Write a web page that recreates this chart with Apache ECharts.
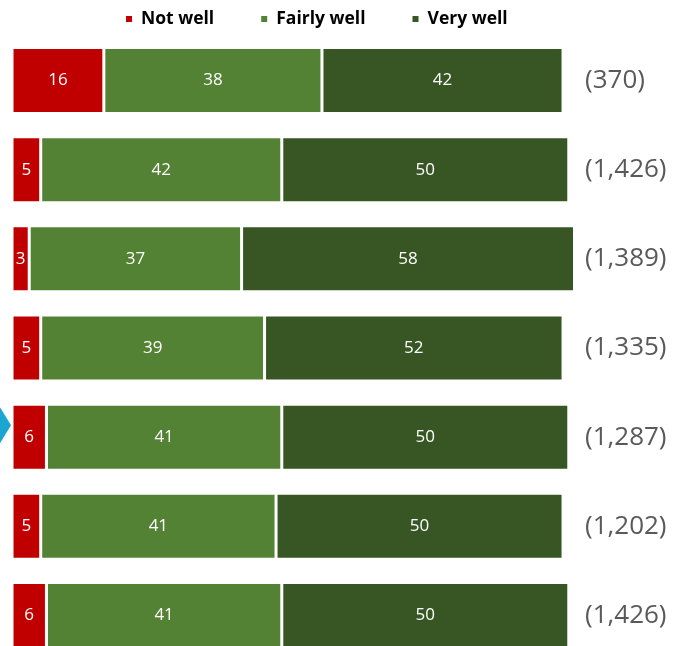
<!DOCTYPE html>
<html>
<head>
<meta charset="utf-8">
<script src="https://cdn.jsdelivr.net/npm/echarts@6/dist/echarts.min.js"></script>
<style>
  html, body { margin: 0; padding: 0; background: #fff; }
  #chart { width: 677px; height: 646px; }
</style>
</head>
<body>
<div id="chart"></div>
<script>
// Rows, top to bottom
var rows = ['r1', 'r2', 'r3', 'r4', 'r5', 'r6', 'r7'];
// Sample sizes shown at the right of each bar
var sampleSizes = ['(370)', '(1,426)', '(1,389)', '(1,335)', '(1,287)', '(1,202)', '(1,426)'];
// Percentages per response
var notWell    = [16, 5, 3, 5, 6, 5, 6];
var fairlyWell = [38, 42, 37, 39, 41, 41, 41];
var veryWell   = [42, 50, 58, 52, 50, 50, 50];
// Row marked with the pointer on the left
var highlightedRow = 4;

var FONT = '"Open Sans", Lato, sans-serif';

var chart = echarts.init(document.getElementById('chart'));

function seg(name, data, color) {
  return {
    name: name,
    type: 'bar',
    stack: 'total',
    data: data,
    barWidth: 66,
    itemStyle: { color: color, borderColor: '#ffffff', borderWidth: 1.5 },
    label: {
      show: true,
      position: 'inside',
      color: '#ffffff',
      fontFamily: FONT,
      fontSize: 17
    },
    emphasis: { disabled: true }
  };
}

chart.setOption({
  animation: false,
  legend: {
    top: 5,
    left: 119,
    itemWidth: 8,
    itemHeight: 8,
    itemGap: 45,
    icon: 'rect',
    textStyle: { fontFamily: FONT, fontWeight: 700, fontSize: 17.5, color: '#000', padding: [0, 0, 0, 3] },
    data: ['Not well', 'Fairly well', 'Very well']
  },
  grid: {
    left: 12, right: 91, top: 36, height: 624,
    containLabel: false,
    outerBoundsMode: 'none'
  },
  xAxis: {
    type: 'value',
    min: 0,
    max: 100,
    show: false
  },
  yAxis: [
    {
      type: 'category',
      data: rows,
      inverse: true,
      show: false
    },
    {
      type: 'category',
      data: sampleSizes,
      inverse: true,
      position: 'right',
      axisLine: { show: false },
      axisTick: { show: false },
      axisLabel: {
        margin: -1,
        align: 'left',
        color: '#595959',
        fontFamily: FONT,
        fontSize: 26
      }
    }
  ],
  series: [
    seg('Not well', notWell, '#C00000'),
    seg('Fairly well', fairlyWell, '#548235'),
    seg('Very well', veryWell, '#375623')
  ]
});

// Pointer triangle beside the highlighted row, sitting a little above its centre
var cy = chart.convertToPixel({ yAxisIndex: 0 }, highlightedRow) - 12;
chart.setOption({
  graphic: [{
    type: 'polygon',
    shape: { points: [[0, cy - 18], [11, cy], [0, cy + 18]] },
    style: { fill: '#1AA6D1' },
    silent: true
  }]
});
</script>
</body>
</html>
